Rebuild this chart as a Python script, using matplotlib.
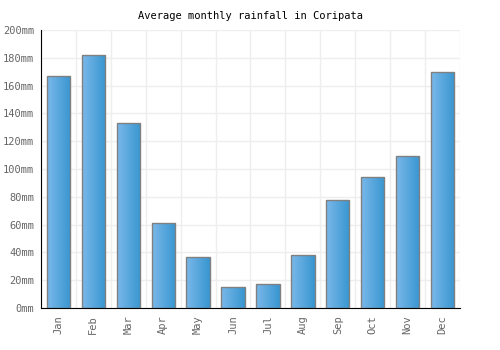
import matplotlib
matplotlib.use("Agg")
import matplotlib.pyplot as plt
import numpy as np
from matplotlib.colors import LinearSegmentedColormap

months = ["Jan", "Feb", "Mar", "Apr", "May", "Jun", "Jul", "Aug", "Sep", "Oct", "Nov", "Dec"]
rainfall = [167, 182, 133, 61, 37, 15, 17, 38, 78, 94, 109, 170]
yticks = [0, 20, 40, 60, 80, 100, 120, 140, 160, 180, 200]
ytick_labels = [f"{v}mm" for v in yticks]

plt.rcParams['font.family'] = ['DejaVu Sans Mono']
fig = plt.figure(figsize=(5, 3.5), dpi=100)
ax = fig.add_axes([41/500, 42/350, 419/500, 278/350])

x = np.arange(len(months))
bars = ax.bar(x, rainfall, width=0.67, color='none', edgecolor='#808080', linewidth=1, zorder=3)
cmap = LinearSegmentedColormap.from_list('g', ['#7ab8ea', '#3896d0'])
grad = np.linspace(0, 1, 64).reshape(1, -1)
for b in bars:
    x0, y0 = b.get_x(), b.get_y()
    w, h = b.get_width(), b.get_height()
    im = ax.imshow(grad, extent=[x0, x0 + w, y0, y0 + h], aspect='auto', cmap=cmap, zorder=2)
    im.set_clip_path(b)

ax.set_xlim(-0.5, len(months) - 0.5)
ax.set_ylim(0, 200)
ax.set_xticks(x)
ax.set_xticklabels(months, rotation=90, fontsize=7.5, color='#666666')
ax.set_yticks(yticks)
ax.set_yticklabels(ytick_labels, fontsize=7.5, color='#666666')
ax.set_xticks(np.arange(-0.5, len(months), 1), minor=True)
ax.grid(True, which='minor', axis='x', color='#eeeeee', linewidth=1, zorder=0)
ax.grid(True, which='major', axis='y', color='#eeeeee', linewidth=1, zorder=0)
ax.tick_params(axis='both', which='both', length=0, pad=5)
for s in ['top', 'right']:
    ax.spines[s].set_visible(False)
ax.spines['left'].set_color('black')
ax.spines['bottom'].set_color('black')
ax.set_title("Average monthly rainfall in Coripata", fontsize=7.5, pad=8)
fig.savefig("out.png", dpi=100)
